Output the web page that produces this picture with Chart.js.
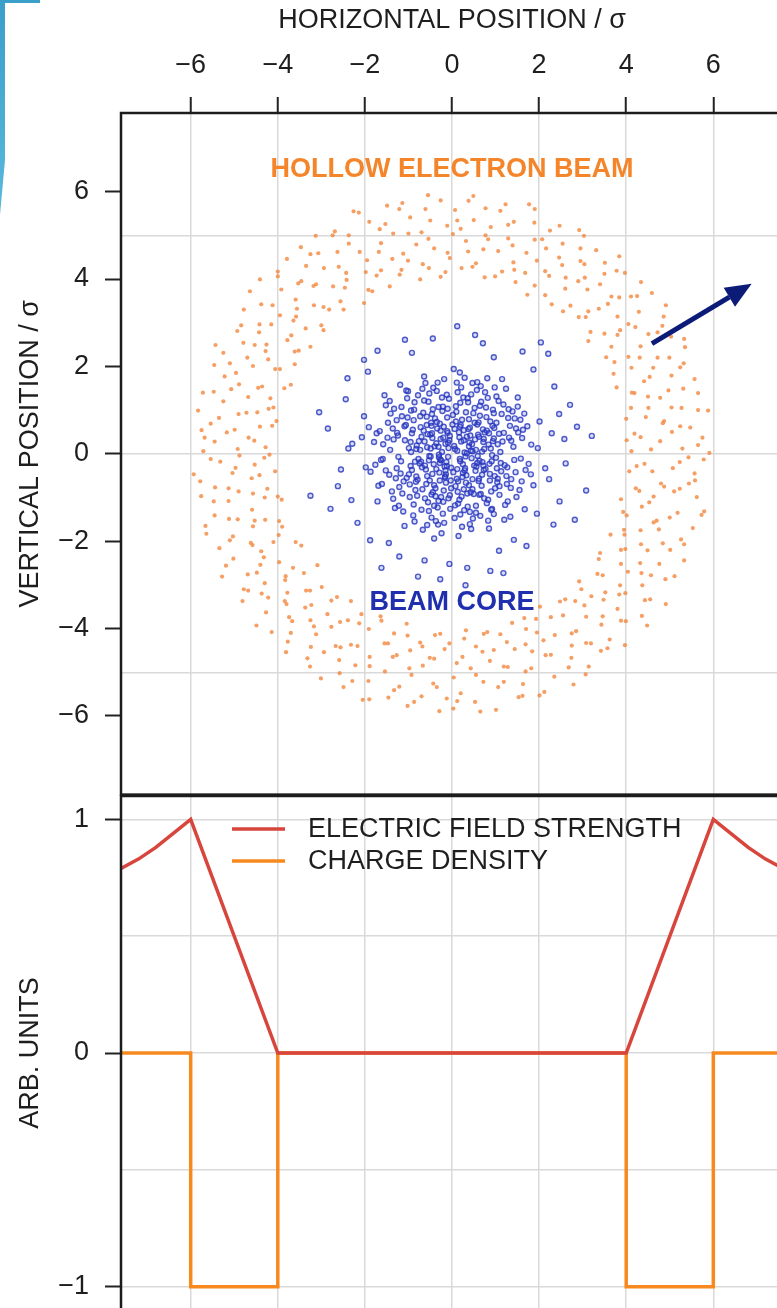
<!DOCTYPE html>
<html>
<head>
<meta charset="utf-8">
<script src="https://cdn.jsdelivr.net/npm/chart.js@4.4.1/dist/chart.umd.min.js"></script>
<style>
  html, body { margin: 0; padding: 0; background: #fff; overflow: hidden; }
  body { width: 777px; height: 1308px; position: relative; }
  #beam { position: absolute; left: 0; top: 0; }
  #profile { position: absolute; left: 0; top: 776px; }
  #deco { position: absolute; left: 0; top: 0; width: 40px; height: 220px;
          background: linear-gradient(#3a9fc9, #5cb9de);
          clip-path: polygon(0 0, 40px 0, 40px 3px, 5px 3px, 5px 160px, 0 215px); }
</style>
</head>
<body>
<canvas id="beam" width="800" height="800"></canvas>
<canvas id="profile" width="800" height="540"></canvas>
<div id="deco"></div>
<script>
// axes
const xRange = [-7.6, 7.6];
const xTicks = [-6, -4, -2, 0, 2, 4, 6];
const beamYRange = [-7.8, 7.8];
const beamYTicks = [-6, -4, -2, 0, 2, 4, 6];
const beamYGrid = [-5, 0, 5];
const profileYRange = [-1.1, 1.1];
const profileYTicks = [-1, 0, 1];
const profileYGrid = [-1, -0.5, 0, 0.5, 1];

// lower panel
const fieldX = [-7.6, -7.2, -6.8, -6.4, -6, -4, 4, 6, 6.4, 6.8, 7.2, 7.6];
const fieldY = [0.79, 0.83, 0.88, 0.94, 1, 0, 0, 1, 0.94, 0.88, 0.83, 0.79];
const densityX = [-7.6, -6, -6, -4, -4, 4, 4, 6, 6, 7.6];
const densityY = [0, 0, -1, -1, 0, 0, -1, -1, 0, 0];

// upper panel, particles (sigma units)
const ringPoints = [
  [4.12,0.06],[5.43,-0.08],[5.91,0.02],[4.78,0.29],[5.65,0.20],[4.33,0.38],[5.05,0.50],[4.01,0.31],
  [5.24,0.63],[4.84,0.70],[5.65,1.00],[4.45,0.84],[5.88,0.99],[4.51,1.05],[5.04,1.06],[4.11,1.05],
  [5.31,1.49],[4.78,1.28],[5.57,1.71],[4.19,1.39],[5.04,1.79],[4.41,1.66],[5.24,1.98],[3.78,1.52],
  [4.62,1.97],[5.35,2.44],[4.12,1.97],[4.72,2.20],[4.31,2.20],[5.03,2.68],[3.73,2.10],[4.72,2.78],
  [4.33,2.46],[4.86,3.14],[3.54,2.21],[4.21,2.90],[3.80,2.72],[4.91,3.40],[3.50,2.75],[4.29,3.25],
  [3.80,3.14],[4.25,3.61],[3.13,2.58],[3.84,3.58],[4.34,3.93],[3.07,3.13],[3.66,3.60],[3.37,3.32],
  [3.78,4.19],[2.91,3.13],[3.50,4.12],[3.11,3.76],[3.84,4.52],[2.55,3.26],[3.05,4.03],[3.31,4.66],
  [2.60,3.78],[3.04,4.34],[2.61,4.03],[2.95,4.70],[2.14,3.63],[2.92,5.12],[2.53,4.32],[2.14,4.18],
  [2.54,4.81],[1.73,3.64],[2.16,4.70],[2.47,5.22],[1.68,4.14],[2.07,4.91],[1.71,4.60],[1.89,5.29],
  [1.46,3.93],[1.77,5.71],[1.41,4.38],[1.29,4.93],[1.15,4.17],[1.42,5.31],[1.06,4.64],[1.23,5.71],
  [0.75,4.04],[0.89,5.19],[0.83,4.91],[0.77,5.62],[0.55,4.36],[0.50,5.35],[0.37,4.63],[0.49,5.90],
  [0.22,4.25],[0.20,5.15],
  [-0.05,4.48],[0.07,5.58],[0.02,5.03],[-0.26,5.80],[-0.15,4.16],[-0.41,4.70],[-0.50,5.34],[-0.55,5.92],
  [-0.53,4.25],[-0.70,5.07],[-0.96,5.41],[-0.73,3.99],[-0.82,4.79],[-1.21,5.60],[-1.01,4.42],[-1.35,5.04],
  [-1.16,4.21],[-1.49,5.68],[-1.37,4.46],[-1.66,5.14],[-1.43,3.83],[-1.90,5.31],[-1.68,4.62],[-2.26,5.55],
  [-1.73,4.08],[-2.12,4.62],[-1.98,4.16],[-2.37,5.00],[-1.92,3.75],[-2.69,5.09],[-2.43,4.14],[-2.63,4.62],
  [-2.02,3.45],[-3.13,4.99],[-2.46,3.80],[-2.94,4.25],[-2.73,3.83],[-3.25,4.57],[-2.49,3.30],[-3.35,4.30],
  [-3.18,3.84],[-3.79,4.46],[-2.82,3.30],[-3.53,3.90],[-3.17,3.40],[-4.00,4.06],[-3.00,2.94],[-3.59,3.53],
  [-3.56,3.32],[-4.41,3.99],[-3.36,2.87],[-4.12,3.40],[-3.64,3.05],[-4.38,3.42],[-3.25,2.45],[-4.15,2.96],
  [-3.78,2.60],[-4.78,3.30],[-3.61,2.34],[-4.43,2.78],[-4.26,2.50],[-4.93,2.81],[-3.61,2.05],[-4.79,2.54],
  [-4.22,2.16],[-4.06,1.94],[-5.43,2.49],[-4.70,2.20],[-3.70,1.58],[-5.10,2.07],[-4.96,1.85],[-4.36,1.54],
  [-5.46,2.03],[-4.17,1.27],[-4.89,1.59],[-5.47,1.42],[-4.68,1.30],[-4.10,1.06],[-5.25,1.20],[-4.47,0.95],
  [-4.90,0.91],[-5.83,0.99],[-4.03,0.75],[-5.54,0.69],[-4.41,0.62],[-5.17,0.49],[-4.67,0.37],[-5.75,0.54],
  [-4.28,0.15],[-5.45,0.28],
  [-4.88,-0.04],[-5.71,0.06],[-4.19,-0.02],[-5.32,-0.18],[-4.53,-0.25],[-5.93,-0.47],[-4.06,-0.40],[-5.04,-0.44],
  [-4.60,-0.56],[-5.44,-0.77],[-4.24,-0.80],[-5.76,-0.97],[-4.90,-0.86],[-5.13,-1.08],[-4.30,-1.00],[-5.45,-1.41],
  [-4.59,-1.28],[-3.91,-1.05],[-4.92,-1.50],[-5.64,-1.83],[-4.29,-1.51],[-5.03,-1.89],[-4.57,-1.66],[-5.34,-2.16],
  [-3.90,-1.67],[-4.58,-2.09],[-5.02,-2.40],[-3.98,-1.86],[-4.38,-2.23],[-5.28,-2.81],[-3.59,-2.02],[-4.69,-2.76],
  [-4.40,-2.54],[-3.97,-2.48],[-4.78,-3.10],[-4.30,-2.96],[-3.65,-2.61],[-4.81,-3.37],[-3.83,-2.89],[-4.22,-3.29],
  [-3.09,-2.55],[-4.27,-3.63],[-3.78,-3.18],[-3.80,-3.44],[-3.35,-3.13],[-4.14,-4.08],[-2.99,-3.05],[-3.74,-3.74],
  [-3.23,-3.46],[-3.70,-4.10],[-3.25,-3.81],[-2.77,-3.36],[-3.81,-4.54],[-2.86,-3.67],[-3.12,-4.13],[-3.32,-4.68],
  [-2.32,-3.37],[-2.77,-3.96],[-2.94,-4.54],[-2.39,-3.81],[-3.01,-5.14],[-2.08,-3.67],[-2.56,-4.43],[-2.32,-4.37],
  [-2.58,-5.02],[-1.91,-4.01],[-2.22,-4.84],[-2.49,-5.34],[-1.62,-3.82],[-1.89,-4.65],[-1.92,-5.20],[-1.55,-4.34],
  [-2.05,-5.63],[-1.33,-4.11],[-1.54,-4.98],[-1.27,-4.61],[-1.46,-5.58],[-1.04,-3.89],[-1.21,-5.33],[-0.96,-4.50],
  [-0.93,-5.06],[-0.73,-4.32],[-1.02,-5.77],[-0.67,-4.85],[-0.70,-5.55],[-0.39,-4.15],[-0.43,-5.26],[-0.41,-4.69],
  [-0.29,-5.89],[-0.17,-4.47],
  [0.04,-5.12],[-0.06,-4.34],[0.03,-5.83],[0.24,-4.65],[0.20,-5.48],[0.32,-4.04],[0.53,-5.68],[0.43,-4.91],
  [0.72,-5.22],[0.55,-4.41],[1.01,-5.86],[0.87,-4.74],[0.73,-4.12],[1.19,-5.22],[0.96,-4.49],[1.28,-4.88],
  [1.53,-5.57],[1.11,-4.13],[1.44,-4.47],[1.63,-5.27],[1.38,-3.87],[1.82,-4.91],[2.01,-5.53],[1.84,-4.52],
  [1.70,-4.01],[2.35,-5.10],[1.95,-4.09],[2.15,-4.61],[2.79,-5.28],[1.93,-3.78],[2.36,-4.15],[2.74,-4.67],
  [2.02,-3.50],[2.75,-4.39],[3.14,-4.87],[2.55,-3.70],[3.08,-4.33],[2.85,-4.06],[3.42,-4.51],[2.60,-3.33],
  [3.08,-3.73],[3.62,-4.25],[2.83,-3.37],[3.97,-4.38],[3.46,-3.72],[3.20,-3.26],[3.88,-3.82],[2.92,-2.92],
  [3.80,-3.55],[3.52,-3.17],[4.36,-3.71],[3.34,-2.75],[3.84,-3.22],[3.86,-3.01],[4.43,-3.35],[3.37,-2.41],
  [4.37,-3.01],[4.91,-3.44],[3.88,-2.52],[4.35,-2.73],[4.90,-2.87],[3.88,-2.20],[4.32,-2.50],[4.76,-2.52],
  [3.64,-1.85],[4.34,-2.07],[5.33,-2.44],[3.96,-1.85],[4.84,-2.05],[4.33,-1.75],[5.26,-1.96],[4.01,-1.41],
  [4.75,-1.73],[4.70,-1.53],[5.53,-1.70],[4.36,-1.21],[5.18,-1.35],[3.88,-1.04],[5.79,-1.32],[4.63,-0.98],
  [4.22,-0.79],[5.10,-0.86],[5.62,-0.99],[4.80,-0.68],[5.44,-0.68],[4.07,-0.40],[5.57,-0.45],[4.60,-0.40],
  [5.23,-0.19],[4.42,-0.23],
  [4.57,0.10],[5.29,0.12],[5.75,0.37],[4.19,0.46],[5.47,0.60],[4.87,0.75],[5.27,1.05],[4.00,0.80],
  [5.65,1.39],[4.50,1.31],[4.97,1.45],[4.13,1.40],[5.32,2.07],[4.54,1.76],[4.99,2.20],[3.71,1.83],
  [5.33,2.63],[4.05,2.22],[4.51,2.74],[4.83,2.93],[3.66,2.45],[4.05,2.97],[3.86,2.83],[4.59,3.68],
  [3.18,2.79],[4.11,3.60],[3.58,3.43],[3.97,4.14],[3.13,3.26],[3.40,3.88],[2.72,3.39],[3.51,4.37],
  [2.90,3.95],[2.95,4.41],[2.29,3.42],[3.03,4.99],[2.23,4.07],[2.46,4.49],[1.90,3.85],[2.25,5.11],
  [1.95,4.42],[1.90,4.90],[1.43,4.21],[1.90,5.60],[1.39,4.77],[1.29,5.24],[0.99,4.06],[1.11,5.56],
  [0.72,4.68],[0.77,5.00],[0.47,4.28],[0.38,5.79],[0.32,4.87],[0.12,5.34],
  [-0.11,5.22],[-0.10,4.60],[-0.26,4.05],[-0.61,5.60],[-0.54,4.92],[-0.67,4.34],[-1.14,5.74],[-1.00,5.04],
  [-1.12,4.58],[-1.20,4.10],[-1.53,5.26],[-1.63,4.82],[-2.14,5.52],[-1.63,4.20],[-1.95,4.43],[-2.37,4.81],
  [-1.83,3.72],[-2.74,5.00],[-2.42,3.98],[-2.60,4.28],[-3.07,4.59],[-2.56,3.49],[-3.47,4.73],[-3.12,3.88],
  [-3.46,3.95],[-2.95,3.36],[-4.00,4.17],[-2.95,2.83],[-3.92,3.76],[-3.58,3.14],[-4.64,3.72],[-3.95,3.17],
  [-3.69,2.71],[-4.42,2.96],[-3.52,2.36],[-4.84,2.94],[-4.28,2.35],[-4.53,2.49],[-3.95,1.94],[-5.25,2.31],
  [-4.57,2.01],[-3.85,1.50],[-5.22,1.77],[-4.45,1.51],[-5.07,1.48],[-4.21,1.03],[-5.72,1.40],[-4.72,0.94],
  [-5.35,0.82],[-4.13,0.64],[-4.99,0.55],[-5.68,0.37],[-4.54,0.30],[-4.92,0.11],
  [-5.54,-0.12],[-4.31,-0.09],[-4.97,-0.32],[-5.78,-0.63],[-4.42,-0.49],[-5.13,-0.79],[-4.57,-0.91],[-5.47,-1.09],
  [-4.00,-0.98],[-5.12,-1.49],[-5.66,-1.65],[-4.53,-1.53],[-3.97,-1.54],[-5.10,-1.98],[-4.62,-2.04],[-5.19,-2.56],
  [-4.10,-2.02],[-4.32,-2.37],[-4.48,-2.72],[-3.46,-2.10],[-4.68,-3.13],[-3.82,-2.80],[-4.37,-3.20],[-3.40,-2.73],
  [-4.49,-3.93],[-3.84,-3.37],[-3.26,-3.13],[-3.67,-3.83],[-3.37,-3.52],[-3.77,-4.30],[-2.64,-3.28],[-3.17,-3.95],
  [-3.24,-4.42],[-2.57,-3.85],[-3.26,-4.87],[-2.67,-4.40],[-2.13,-3.88],[-2.59,-4.72],[-2.17,-4.40],[-2.29,-5.20],
  [-1.64,-3.72],[-1.89,-4.86],[-1.47,-4.34],[-1.90,-5.62],[-1.36,-4.65],[-1.33,-5.41],[-1.02,-4.16],[-0.98,-4.91],
  [-0.87,-5.68],[-0.68,-4.41],[-0.51,-4.67],[-0.35,-5.34],[-0.27,-4.12],[-0.12,-5.60],
  [0.11,-4.79],[0.12,-5.66],[0.28,-4.23],[0.55,-5.06],[0.65,-5.90],[0.70,-4.53],[1.06,-5.34],[0.81,-4.08],
  [1.19,-4.87],[1.62,-5.54],[1.26,-4.31],[1.69,-4.98],[1.69,-4.36],[2.12,-5.45],[1.66,-3.76],[2.27,-4.60],
  [2.10,-4.27],[2.68,-4.89],[2.27,-3.74],[3.07,-5.05],[2.75,-4.11],[3.19,-4.34],[2.48,-3.38],[3.57,-4.45],
  [3.04,-3.47],[3.43,-3.91],[2.97,-3.10],[3.99,-3.83],[3.48,-3.34],[4.48,-3.93],[3.46,-2.78],[3.98,-3.19],
  [4.55,-3.33],[3.40,-2.27],[4.04,-2.70],[4.57,-2.78],[5.11,-2.80],[3.98,-2.18],[4.49,-2.21],[3.95,-1.74],
  [5.01,-2.20],[5.33,-2.07],[4.63,-1.57],[3.93,-1.33],[5.00,-1.46],[5.73,-1.40],[4.53,-1.11],[4.30,-0.85],
  [5.23,-0.80],[4.87,-0.75],[5.58,-0.61],[4.24,-0.28],[5.07,-0.33],[5.78,-0.13]
];
const corePoints = [
  [0.12,-0.35],[-0.48,0.71],[1.05,0.22],[-0.83,-0.64],[0.37,1.18],[-1.42,0.09],[0.66,-0.92],[-0.21,-1.37],[1.63,0.55],[-0.05,0.41],
  [0.29,0.03],[-0.71,-0.18],[0.94,1.01],[-1.15,0.86],[0.51,-0.27],[-0.34,0.58],[1.28,-1.09],[-0.62,-1.02],[0.08,-0.74],[-1.87,-0.41],
  [0.73,0.34],[-0.16,-0.52],[1.44,0.81],[-0.95,0.27],[0.21,1.52],[-0.44,-0.88],[0.87,-0.46],[-1.31,-1.24],[0.02,0.89],[2.14,-0.33],
  [-0.57,0.15],[0.41,-1.61],[-0.09,0.26],[1.12,-0.21],[-1.66,0.52],[0.58,0.67],[-0.27,-0.13],[0.96,-1.38],[-0.78,1.34],[0.33,-0.49],
  [-2.07,0.38],[0.69,0.05],[-0.38,-0.97],[1.51,1.29],[-0.12,-0.28],[0.18,0.62],[-1.04,-0.55],[0.81,1.73],[-0.66,0.94],[0.47,-0.81],
  [1.87,-0.72],[-0.31,1.07],[0.14,-1.14],[-1.23,-0.07],[0.62,0.39],[-0.86,-1.55],[1.19,0.48],[-0.03,-0.61],[0.39,0.17],[-1.52,1.11],
  [0.92,-0.03],[-0.45,0.36],[0.25,-0.44],[-0.69,-0.31],[1.36,-0.58],[-0.18,1.71],[0.55,-1.19],[-1.09,0.63],[0.07,0.11],[2.46,0.91],
  [-0.92,0.47],[0.44,1.36],[-0.24,-1.82],[1.02,0.71],[-1.38,-0.86],[0.31,-0.06],[-0.59,-0.69],[0.77,-0.35],[-0.11,0.83],[1.67,-1.27],
  [-0.42,-0.24],[0.16,0.49],[-1.76,-0.25],[0.99,-0.79],[-0.07,1.26],[0.63,-0.16],[-0.81,0.19],[1.24,1.49],[-0.33,-1.23],[0.49,0.93],
  [-1.19,1.58],[0.85,-1.71],[-0.52,-0.05],[0.27,0.31],[1.58,-0.11],[-0.97,-0.99],[0.06,-1.47],[-0.28,0.69],[0.71,0.56],[-2.31,-1.06],
  [0.35,-0.91],[-0.64,1.22],[1.31,0.37],[-0.15,-0.38],[0.52,1.05],[-1.27,-0.33],[0.89,0.12],[-0.47,-1.46],[0.19,-0.17],[-0.88,0.77],
  [1.73,0.63],[-0.36,0.24],[0.61,-0.62],[-1.61,-0.69],[0.04,1.94],[1.09,-0.94],[-0.74,-0.22],[0.42,0.42],[-0.19,-0.84],[0.83,-1.53],
  [-1.08,0.31],[0.23,0.78],[-0.55,-1.11],[1.46,-0.42],[-0.26,0.53],[0.67,1.19],[-1.47,0.71],[0.11,-0.57],[0.94,0.29],[-0.61,1.62],
  [0.28,-1.29],[-0.99,-0.47],[1.18,1.13],[-0.23,0.04],[0.56,-0.29],[-2.02,0.86],[0.79,0.84],[-0.41,-0.72],[1.97,0.13],[-0.08,-1.02],
  [0.46,0.22],[-1.33,1.03],[0.13,1.41],[-0.72,0.61],[1.04,-0.65],[-0.29,-0.43],[0.74,-1.02],[-1.12,-1.32],[0.38,0.57],[-0.49,0.12],
  [1.39,0.97],[-0.13,-0.19],[0.58,1.64],[-0.84,-0.83],[0.22,-0.98],[-1.58,0.22],[1.11,0.04],[-0.35,1.44],[0.86,-0.23],[-0.67,-1.74],
  [0.01,0.67],[1.55,-0.83],[-0.94,0.04],[0.32,-0.66],[-0.46,0.91],[0.97,0.59],[-1.71,-1.09],[0.17,0.38],[-0.25,-0.99],[1.27,-0.31],
  [-0.56,0.45],[0.65,-1.42],[-1.03,1.27],[0.43,0.07],[-0.17,-0.29],[2.23,-0.58],[-0.79,-0.59],[0.09,1.09],[0.88,0.74],[-1.24,0.42],
  [0.54,-0.39],[-0.32,-1.62],[1.22,-1.17],[-0.63,0.28],[0.26,1.29],[-1.44,-0.48],[0.72,0.27],[-0.02,-0.32],[1.61,0.36],[-0.87,1.01],
  [0.39,0.79],[-0.51,-0.61],[0.98,-0.51],[-0.20,0.37],[-1.91,0.61],[0.59,-0.05],[-0.70,-1.28],[1.33,0.64],[0.15,-1.88],[-0.39,0.81],
  [0.82,1.28],[-1.17,-0.17],[0.30,-0.33],[-0.43,1.51],[1.48,-0.99],[-0.90,0.55],[0.05,0.18],[0.68,-0.73],[-1.35,-1.03],[0.47,1.62],
  [-0.60,-0.36],[1.08,0.46],[-0.22,0.98],[0.36,-1.21],[-1.02,0.83],[1.81,-0.47],[-0.14,-0.66],[0.53,0.33],[-0.77,-0.12],[0.20,0.66],
  [-1.55,1.34],[0.90,-0.86],[-0.30,-0.08],[1.15,1.71],[-0.58,0.66],[0.24,-0.53],[-1.21,-0.76],[0.64,0.87],[-0.04,-1.26],[2.01,0.74],
  [-0.82,0.11],[0.40,0.26],[-0.37,-1.54],[1.26,-0.69],[-1.63,-0.14],[0.57,1.46],[-0.10,0.48],[0.80,-1.13],[-0.54,1.19],[1.41,0.16],
  [-0.28,-0.21],[0.13,-0.87],[-1.06,0.66],[0.75,0.49],[-0.47,-0.93],[1.02,1.31],[-1.79,0.27],[0.34,0.01],[-0.64,1.77],[0.92,-1.26],
  [-0.06,0.31],[0.47,-0.58],[-1.29,-0.56],[1.66,0.92],[-0.40,0.17],[0.70,-0.19],[-0.89,-1.41],[0.10,0.96],[1.13,-0.40],[-0.16,-0.54],
  [-2.38,0.12],[0.61,0.72],[-0.50,0.44],[0.29,1.74],[-0.95,-0.28],[1.34,-1.44],[-0.31,-1.08],[0.84,0.21],[-1.41,0.92],[0.03,-0.42],
  [0.55,0.09],[-0.73,0.86],[1.21,-0.26],[-0.12,1.35],[0.41,-1.33],[-1.14,-0.91],[0.78,1.06],[-0.45,-0.46],[1.52,0.49],[-0.92,-0.37],
  [0.18,-0.12],[-0.35,0.73],[0.96,0.93],[-1.52,-0.38],[0.63,-0.94],[-0.21,1.08],[1.76,-0.23],[-0.68,-0.81],[0.27,0.54],[-1.01,1.43],
  [0.44,-1.72],[-0.08,0.13],[1.05,-0.57],[-0.53,-0.15],[0.19,1.17],[-1.26,0.48],[0.73,-0.37],[-0.41,-1.19],[1.29,0.82],[-0.19,0.62],
  [-2.62,-0.74],[2.71,1.12],[-1.93,1.88],[2.33,-1.62],[-0.44,2.64],[0.71,2.53],[-1.21,-2.35],[1.08,-2.22],[-2.85,0.58],[3.08,-0.84],
  [-0.92,2.31],[1.87,1.93],[-2.17,-1.58],[0.35,-2.61],[2.58,0.34],[-1.71,2.36],[1.42,-1.97],[-2.44,1.25],[0.12,2.92],[-3.25,-0.96],
  [2.21,2.29],[-0.63,-2.44],[1.95,-1.37],[-1.88,-1.98],[2.87,0.62],[-0.27,-2.87],[1.62,2.34],[-2.29,0.23],[0.88,-2.68],[2.47,-1.09],
  [0.58,-0.21],[-0.26,0.34],[0.93,0.64],[-1.11,-0.63],[0.17,-1.05],[-0.65,0.53],[1.43,-0.14],[-0.38,-0.79],[0.32,0.95],[-0.86,1.18],
  [1.16,0.28],[-0.14,-0.47],[0.48,-1.48],[-1.48,0.37],[0.76,1.41],[-0.53,-1.31],[0.06,0.57],[1.35,-0.78],[-0.99,0.13],[0.25,-0.24],
  [-0.44,1.02],[0.69,-0.48],[-1.22,-1.19],[0.11,1.63],[1.01,-0.09],[-0.70,0.39],[0.39,-0.72],[-0.18,-1.58],[1.57,0.78],[-0.31,0.16],
  [0.83,-1.05],[-1.36,0.58],[0.21,0.28],[-0.57,-0.51],[1.07,1.21],[-0.05,-0.95],[0.60,0.44],[-1.69,-0.73],[0.45,-0.10],[-0.23,1.29],
  [1.25,-0.51],[-0.80,-0.96],[0.36,1.27],[-0.09,-0.07],[0.96,0.35],[-1.05,1.45],[0.14,-0.63],[-0.47,0.64],[1.69,-0.37],[-0.62,-0.27],
  [0.52,0.71],[-1.59,-0.12],[0.87,-0.61],[-0.33,1.63],[0.07,-1.18],[1.14,0.91],[-0.76,0.29],[0.29,-0.38],[-1.18,-0.45],[0.66,1.55],
  [-0.11,0.52],[0.90,-1.28],[-0.49,-0.06],[1.47,0.58],[-0.94,0.99],[0.23,-1.67],[-0.28,-0.61],[0.74,0.11],[-1.43,1.21],[0.43,-0.88],
  [1.82,0.21],[-0.68,1.49],[0.12,0.07],[-0.85,-0.18],[0.55,-1.35],[1.30,1.02],[-0.20,-1.10],[0.80,0.53],[-1.27,0.77],[0.34,0.39],
  [-0.41,-1.94],[1.03,-0.33],[-0.58,0.85],[0.18,1.86],[-1.73,0.47],[0.62,-0.57],[-0.15,0.23],[1.20,-1.51],[-0.97,-0.70],[0.47,0.06],
  [-0.36,-0.35],[0.98,1.52],[-1.09,-1.65],[0.27,-0.81],[1.60,-0.63],[-0.73,0.09],[0.09,0.74],[-0.52,1.38],[0.72,-0.27],[-1.98,-0.31],
  [2.29,0.47],[-0.88,-1.16],[0.41,0.60],[-0.25,-0.15],[1.09,-0.74],[-1.34,0.33],[0.64,1.10],[-0.02,-0.79],[0.85,0.47],[-0.57,-1.63],
  [1.36,0.30],[-0.46,0.47],[0.19,-1.39],[-1.16,1.07],[0.91,-0.17],[-0.10,1.03],[0.50,-0.92],[-0.82,-0.52],[1.51,1.08],[-0.30,-0.02],
  [-2.55,-0.36],[2.61,-0.22],[-1.45,-2.04],[1.71,-2.11],[-0.06,-2.52],[0.53,2.72],[-2.02,2.15],[2.35,1.54],[-1.08,2.61],[1.18,-2.73],
  [-2.79,-1.26],[3.21,0.41],[-0.78,-2.81],[2.04,2.55],[-3.05,0.95],[0.96,2.21],[-1.62,-2.61],[2.82,-1.51],[-2.40,1.73],[0.31,-3.01]
];

// annotations (data units)
const beamText = [
  { text: 'HOLLOW ELECTRON BEAM', at: [0, 6.5], color: '#f5852a' },
  { text: 'BEAM CORE', at: [0, -3.4], color: '#1f2fae' }
];
const arrowFrom = [4.59, 2.52];
const arrowTo = [6.88, 3.89];

Chart.defaults.font.family = '"Liberation Sans", Arial, sans-serif';
Chart.defaults.color = '#1e1e1e';
const FONT = { size: 27 };
const GRID = '#d9d9d9';
const minus = v => String(v).replace('-', '\u2212');
const fixTicks = vals => s => { s.ticks = vals.map(v => ({ value: v })); };
const toXY = (xs, ys) => xs.map((x, i) => ({ x: x, y: ys[i] }));
const noPad = s => { s.paddingTop = s.paddingBottom = s.paddingLeft = s.paddingRight = 0; };

function xAxis(position, labelled) {
    return {
        type: 'linear', position: position, min: xRange[0], max: xRange[1],
        afterBuildTicks: fixTicks(xTicks),
        afterFit: s => { s.height = labelled ? 113 : 0; noPad(s); },
        border: { display: false },
        grid: { color: GRID, lineWidth: 1.5, drawTicks: labelled, tickLength: 16, tickColor: '#222', tickWidth: 2 },
        ticks: { display: labelled, padding: 15, font: FONT, callback: minus },
        title: { display: labelled, text: 'HORIZONTAL POSITION / \u03c3', font: FONT, padding: { top: 4, bottom: 0 } }
    };
}
function yAxis(range, ticks, title) {
    return {
        type: 'linear', position: 'left', min: range[0], max: range[1],
        afterBuildTicks: fixTicks(ticks),
        afterFit: s => { s.width = 121; noPad(s); },
        border: { display: false },
        grid: { drawOnChartArea: false, tickLength: 16, tickColor: '#222', tickWidth: 2 },
        ticks: { padding: 16, font: FONT, callback: minus },
        title: { display: true, text: title, font: FONT, padding: { top: 14, bottom: 0 } }
    };
}
// grid lines that don't sit on the tick marks
function gridAxis(range, lines) {
    return {
        type: 'linear', position: 'right', min: range[0], max: range[1],
        afterBuildTicks: fixTicks(lines),
        afterFit: s => { s.width = 0; noPad(s); },
        border: { display: false },
        grid: { color: GRID, lineWidth: 1.5, drawTicks: false },
        ticks: { display: false }
    };
}

const frame = {
    id: 'frame',
    afterDraw(chart) {
        const { ctx, chartArea: a } = chart;
        ctx.save();
        ctx.strokeStyle = '#1c1c1c';
        ctx.lineWidth = 2.5;
        ctx.strokeRect(a.left, a.top, a.right - a.left, a.bottom - a.top);
        ctx.restore();
    }
};

const beamLabels = {
    id: 'beamLabels',
    afterDatasetsDraw(chart) {
        const { ctx, scales: { x, y } } = chart;
        ctx.save();
        ctx.font = 'bold 27px "Liberation Sans", Arial, sans-serif';
        ctx.textAlign = 'center';
        ctx.textBaseline = 'middle';
        beamText.forEach(t => {
            ctx.fillStyle = t.color;
            ctx.fillText(t.text, x.getPixelForValue(t.at[0]), y.getPixelForValue(t.at[1]));
        });
        // arrow
        const x0 = x.getPixelForValue(arrowFrom[0]), y0 = y.getPixelForValue(arrowFrom[1]);
        const x1 = x.getPixelForValue(arrowTo[0]), y1 = y.getPixelForValue(arrowTo[1]);
        const ang = Math.atan2(y1 - y0, x1 - x0);
        const head = 26, half = 11;
        const bx = x1 - head * Math.cos(ang), by = y1 - head * Math.sin(ang);
        ctx.strokeStyle = ctx.fillStyle = '#0c1a78';
        ctx.lineWidth = 5;
        ctx.beginPath(); ctx.moveTo(x0, y0); ctx.lineTo(bx, by); ctx.stroke();
        ctx.beginPath();
        ctx.moveTo(x1, y1);
        ctx.lineTo(bx + half * Math.sin(ang), by - half * Math.cos(ang));
        ctx.lineTo(bx - half * Math.sin(ang), by + half * Math.cos(ang));
        ctx.closePath(); ctx.fill();
        ctx.restore();
    }
};

const inlineLegend = {
    id: 'inlineLegend',
    afterDraw(chart) {
        const { ctx, chartArea: a } = chart;
        ctx.save();
        ctx.font = '27px "Liberation Sans", Arial, sans-serif';
        ctx.textBaseline = 'middle';
        chart.data.datasets.forEach((ds, i) => {
            const y = a.top + 33 + i * 32;
            ctx.strokeStyle = ds.borderColor;
            ctx.lineWidth = 3.5;
            ctx.beginPath(); ctx.moveTo(a.left + 111, y); ctx.lineTo(a.left + 164, y); ctx.stroke();
            ctx.fillStyle = '#1e1e1e';
            ctx.fillText(ds.label, a.left + 187, y + 1);
        });
        ctx.restore();
    }
};

new Chart(document.getElementById('beam'), {
    type: 'scatter',
    data: {
        datasets: [{
            label: 'Hollow electron beam',
            data: ringPoints.map(p => ({ x: p[0], y: p[1] })),
            pointRadius: 2.1, borderWidth: 0,
            backgroundColor: 'rgba(244,135,62,0.8)'
        }, {
            label: 'Beam core',
            data: corePoints.map(p => ({ x: p[0], y: p[1] })),
            pointRadius: 2.5, borderWidth: 1.4,
            backgroundColor: 'rgba(60,75,205,0.2)',
            borderColor: 'rgba(38,52,190,0.8)'
        }]
    },
    options: {
        responsive: false, animation: false, events: [],
        layout: { padding: { left: 0, right: 17, top: 0, bottom: 4 } },
        plugins: { legend: { display: false }, tooltip: { enabled: false } },
        scales: {
            x: xAxis('top', true),
            y: yAxis(beamYRange, beamYTicks, 'VERTICAL POSITION / \u03c3'),
            yg: gridAxis(beamYRange, beamYGrid)
        }
    },
    plugins: [beamLabels, frame]
});

new Chart(document.getElementById('profile'), {
    type: 'scatter',
    data: {
        datasets: [{
            label: 'ELECTRIC FIELD STRENGTH',
            data: toXY(fieldX, fieldY),
            showLine: true, pointRadius: 0,
            borderColor: '#d7453d', borderWidth: 3.5,
            order: 1
        }, {
            label: 'CHARGE DENSITY',
            data: toXY(densityX, densityY),
            showLine: true, pointRadius: 0,
            borderColor: '#f7891f', borderWidth: 3.5,
            order: 2
        }]
    },
    options: {
        responsive: false, animation: false, events: [],
        layout: { padding: { left: 0, right: 17, top: 20, bottom: 6 } },
        plugins: { legend: { display: false }, tooltip: { enabled: false } },
        scales: {
            x: xAxis('bottom', false),
            y: yAxis(profileYRange, profileYTicks, 'ARB. UNITS'),
            yg: gridAxis(profileYRange, profileYGrid)
        }
    },
    plugins: [inlineLegend, frame]
});
</script>
</body>
</html>
